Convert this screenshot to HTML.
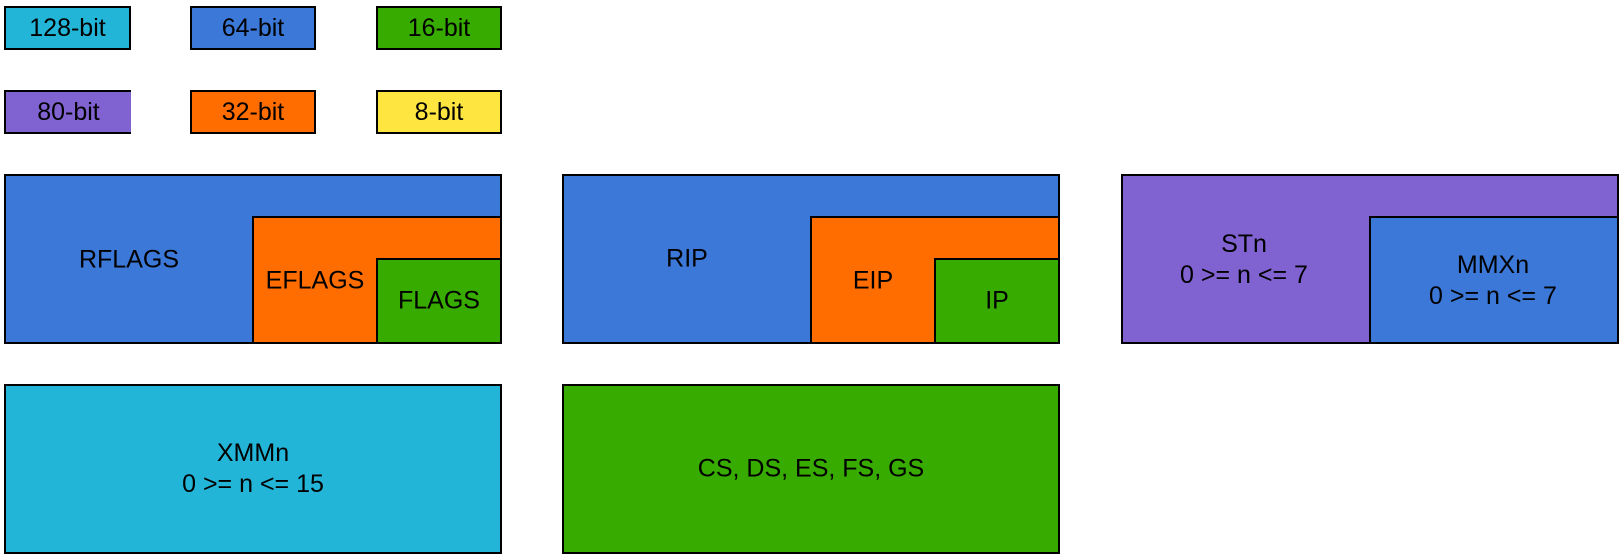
<!DOCTYPE html>
<html><head><meta charset="utf-8"><style>
body{margin:0;width:1624px;height:560px;background:#fff;position:relative;overflow:hidden;font-family:"Liberation Sans",sans-serif;}
.b{position:absolute;box-sizing:border-box;border:2px solid #000;}
.t{position:absolute;font-size:25px;color:#000;text-align:center;transform:translate(-50%,-50%);white-space:nowrap;line-height:31px;}
.lg{display:flex;align-items:center;justify-content:center;font-size:25px;}
.c128{background:#23b5d8}.c64{background:#3c78d8}.c16{background:#38ab00}.c80{background:#8062d0}.c32{background:#ff6d00}.c8{background:#ffe540}
</style></head><body>
<div class="b lg c128" style="left:4px;top:6px;width:127px;height:44px">128-bit</div>
<div class="b lg c64" style="left:190px;top:6px;width:126px;height:44px">64-bit</div>
<div class="b lg c16" style="left:376px;top:6px;width:126px;height:44px">16-bit</div>
<div class="b lg c80" style="left:4px;top:90px;width:127px;height:44px;border-right:none">80-bit</div>
<div class="b lg c32" style="left:190px;top:90px;width:126px;height:44px">32-bit</div>
<div class="b lg c8" style="left:376px;top:90px;width:126px;height:44px">8-bit</div>

<div class="b c64" style="left:4px;top:174px;width:498px;height:170px"></div>
<div class="b c32" style="left:252px;top:216px;width:250px;height:128px"></div>
<div class="b c16" style="left:376px;top:258px;width:126px;height:86px"></div>
<div class="t" style="left:129px;top:260px">RFLAGS</div>
<div class="t" style="left:315px;top:281px">EFLAGS</div>
<div class="t" style="left:439px;top:301px">FLAGS</div>

<div class="b c64" style="left:562px;top:174px;width:498px;height:170px"></div>
<div class="b c32" style="left:810px;top:216px;width:250px;height:128px"></div>
<div class="b c16" style="left:934px;top:258px;width:126px;height:86px"></div>
<div class="t" style="left:687px;top:259px">RIP</div>
<div class="t" style="left:873px;top:281px">EIP</div>
<div class="t" style="left:997px;top:301px">IP</div>

<div class="b c80" style="left:1121px;top:174px;width:498px;height:170px"></div>
<div class="b c64" style="left:1369px;top:216px;width:250px;height:128px"></div>
<div class="t" style="left:1244px;top:260px">STn<br>0 &gt;= n &lt;= 7</div>
<div class="t" style="left:1493px;top:281px">MMXn<br>0 &gt;= n &lt;= 7</div>

<div class="b c128" style="left:4px;top:384px;width:498px;height:170px"></div>
<div class="t" style="left:253px;top:469px">XMMn<br>0 &gt;= n &lt;= 15</div>
<div class="b c16" style="left:562px;top:384px;width:498px;height:170px"></div>
<div class="t" style="left:811px;top:469px">CS, DS, ES, FS, GS</div>
</body></html>
